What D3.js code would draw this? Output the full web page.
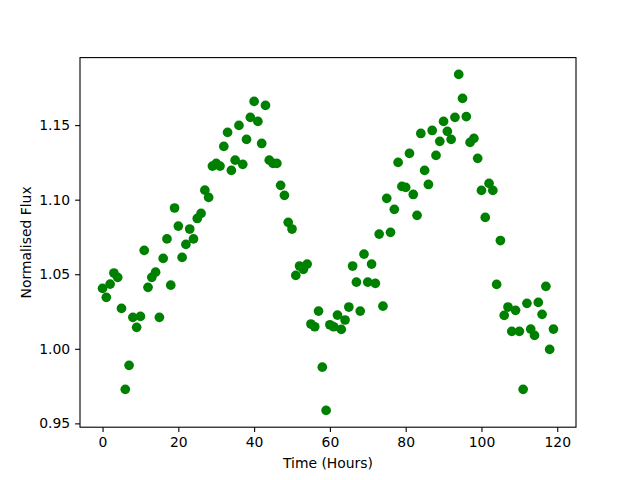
<!DOCTYPE html>
<html>
<head>
<meta charset="utf-8">
<script src="https://cdn.jsdelivr.net/npm/d3@7"></script>
<style>
  body { margin: 0; background: #fff; }
  svg { font-family: "DejaVu Sans", sans-serif; }
</style>
</head>
<body>
<div id="chart"></div>
<script>
// Observation times (hours)
const hours = [
  0, 1, 2, 3, 4, 5, 6, 7, 8, 9, 10, 11, 12, 13, 14, 15, 16, 17, 18, 19,
  20, 21, 22, 23, 24, 25, 26, 27, 28, 29, 30, 31, 32, 33, 34, 35, 36, 37, 38, 39,
  40, 41, 42, 43, 44, 45, 46, 47, 48, 49, 50, 51, 52, 53, 54, 55, 56, 57, 58, 59,
  60, 61, 62, 63, 64, 65, 66, 67, 68, 69, 70, 71, 72, 73, 74, 75, 76, 77, 78, 79,
  80, 81, 82, 83, 84, 85, 86, 87, 88, 89, 90, 91, 92, 93, 94, 95, 96, 97, 98, 99,
  100, 101, 102, 103, 104, 105, 106, 107, 108, 109, 110, 111, 112, 113, 114, 115, 116, 117, 118, 119
];

// Normalised flux values
const flux = [
  1.0405, 1.0345, 1.0434, 1.0508, 1.0479, 1.0271, 0.9728, 0.9889, 1.0211, 1.0144,
  1.0217, 1.0660, 1.0412, 1.0479, 1.0514, 1.0211, 1.0606, 1.0737, 1.0427, 1.0944,
  1.0823, 1.0613, 1.0700, 1.0803, 1.0737, 1.0874, 1.0908, 1.1064, 1.1015, 1.1225,
  1.1243, 1.1225, 1.1357, 1.1451, 1.1196, 1.1265, 1.1498, 1.1237, 1.1404, 1.1552,
  1.1659, 1.1525, 1.1377, 1.1632, 1.1265, 1.1243, 1.1243, 1.1096, 1.1029, 1.0848,
  1.0803, 1.0492, 1.0555, 1.0533, 1.0568, 1.0166, 1.0148, 1.0253, 0.9877, 0.9587,
  1.0161, 1.0148, 1.0226, 1.0130, 1.0193, 1.0280, 1.0555, 1.0447, 1.0253, 1.0635,
  1.0447, 1.0568, 1.0439, 1.0769, 1.0286, 1.1009, 1.0781, 1.0935, 1.1250, 1.1089,
  1.1082, 1.1310, 1.1035, 1.0895, 1.1444, 1.1196, 1.1102, 1.1464, 1.1297, 1.1391,
  1.1525, 1.1458, 1.1404, 1.1552, 1.1840, 1.1679, 1.1557, 1.1384, 1.1411, 1.1277,
  1.1062, 1.0881, 1.1109, 1.1062, 1.0432, 1.0726, 1.0224, 1.0280, 1.0117, 1.0258,
  1.0117, 0.9728, 1.0305, 1.0132, 1.0090, 1.0311, 1.0231, 1.0419, 0.9996, 1.0132
];

const xTicks = [0, 20, 40, 60, 80, 100, 120];
const yTicks = [0.95, 1.00, 1.05, 1.10, 1.15];

const points = hours.map((h, i) => ({ t: h, f: flux[i] }));

const margin = { top: 57.6, right: 64, bottom: 52.8, left: 80 };
const width = 640 - margin.left - margin.right;
const height = 480 - margin.top - margin.bottom;

const svg = d3.select("#chart")
  .append("svg")
  .attr("width", 640)
  .attr("height", 480)
  .append("g")
  .attr("transform", "translate(" + margin.left + "," + margin.top + ")");

// matplotlib style 5% padding on the data range
const tExt = d3.extent(points, d => d.t);
const fExt = d3.extent(points, d => d.f);
const tPad = (tExt[1] - tExt[0]) * 0.05;
const fPad = (fExt[1] - fExt[0]) * 0.05;

const x = d3.scaleLinear()
  .domain([tExt[0] - tPad, tExt[1] + tPad])
  .range([0, width]);

const y = d3.scaleLinear()
  .domain([fExt[0] - fPad, fExt[1] + fPad])
  .range([height, 0]);

svg.selectAll(".dot")
  .data(points)
  .enter().append("circle")
  .attr("class", "dot")
  .attr("cx", d => x(d.t))
  .attr("cy", d => y(d.f))
  .attr("r", 4.85)
  .attr("fill", "#008000");

const xAxis = svg.append("g")
  .attr("transform", "translate(0," + height + ")")
  .call(d3.axisBottom(x).tickValues(xTicks).tickFormat(d3.format("d")).tickSize(4.9).tickPadding(4.9));

const yAxis = svg.append("g")
  .call(d3.axisLeft(y).tickValues(yTicks).tickFormat(d3.format(".2f")).tickSize(4.9).tickPadding(4.9));

[xAxis, yAxis].forEach(g => {
  g.select(".domain").remove();
  g.selectAll(".tick line").attr("stroke", "#000").attr("stroke-width", 1.1);
  g.selectAll(".tick text").attr("fill", "#000").style("font-size", "13.9px").style("font-family", "DejaVu Sans");
});

// frame
svg.append("rect")
  .attr("width", width)
  .attr("height", height)
  .attr("fill", "none")
  .attr("stroke", "#000")
  .attr("stroke-width", 1.1);

svg.append("text")
  .attr("x", width / 2)
  .attr("y", height + 41)
  .attr("text-anchor", "middle")
  .style("font-size", "13.9px")
  .text("Time (Hours)");

svg.append("text")
  .attr("transform", "translate(" + (-49) + "," + (height / 2) + ") rotate(-90)")
  .attr("text-anchor", "middle")
  .style("font-size", "13.9px")
  .text("Normalised Flux");
</script>
</body>
</html>
